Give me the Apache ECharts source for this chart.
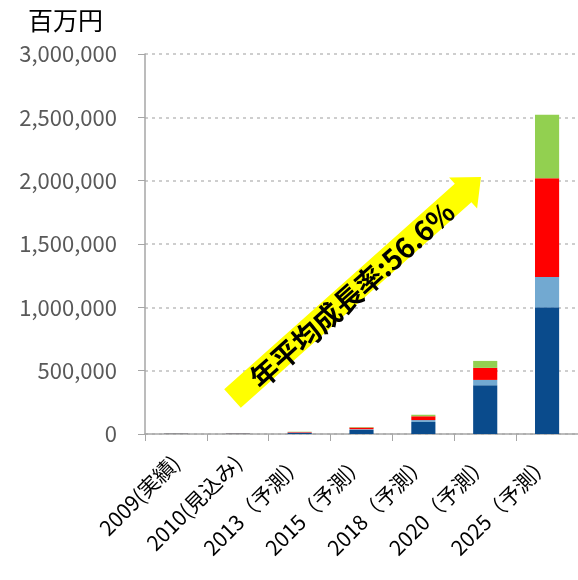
<!DOCTYPE html>
<html><head><meta charset="utf-8">
<script src="https://cdn.jsdelivr.net/npm/echarts@6/dist/echarts.min.js"></script>
<style>html,body{margin:0;padding:0;background:#fff}#c{width:578px;height:580px}</style>
</head><body><div id="c"></div>
<script>
var categories = ['2009(実績)', '2010(見込み)', '2013（予測）', '2015（予測）', '2018（予測）', '2020（予測）', '2025（予測）'];
var darkBlue  = [2000, 2500, 9000, 32000, 95000, 385000, 1000000];
var lightBlue = [500, 700, 2500, 6000, 15000, 42000, 240000];
var red       = [800, 1000, 4000, 13000, 30000, 95000, 780000];
var green     = [700, 800, 2500, 4000, 12000, 55000, 500000];
var yTicks = [0, 500000, 1000000, 1500000, 2000000, 2500000, 3000000];
var arrowText = '年平均成長率:56.6%';

var font = '"Noto Sans CJK JP", "Noto Sans", sans-serif';
function mk(name, data, color) {
  return { name: name, type: 'bar', stack: 'a', data: data, barWidth: '39%',
    itemStyle: { color: color }, emphasis: { disabled: true } };
}
var chart = echarts.init(document.getElementById('c'));
chart.setOption({
  animation: false,
  grid: { left: 145, right: 0, top: 54, bottom: 146 },
  xAxis: {
    type: 'category', data: categories,
    axisLine: { lineStyle: { color: '#a6a6a6', width: 1.5 } },
    axisTick: { show: true, length: 7, lineStyle: { color: '#a6a6a6' } },
    axisLabel: { rotate: 45, fontSize: 21, color: '#000', fontFamily: font, margin: 25, interval: 0 }
  },
  yAxis: {
    type: 'value', min: yTicks[0], max: yTicks[yTicks.length - 1], interval: 500000,
    axisLine: { show: true, lineStyle: { color: '#a6a6a6', width: 1.5 } },
    axisTick: { show: true, length: 7, lineStyle: { color: '#a6a6a6' } },
    axisLabel: { fontSize: 22, color: '#595959', fontFamily: font, margin: 28,
      formatter: function (v) { return v.toLocaleString('en-US'); } },
    splitLine: { lineStyle: { color: '#bfbfbf', type: [3, 4], width: 1.5 } }
  },
  series: [
    mk('a', darkBlue, '#0a4b8c'),
    mk('b', lightBlue, '#72a9d1'),
    mk('c', red, '#ff0000'),
    mk('d', green, '#92d050')
  ],
  graphic: [
    { type: 'text', left: 28, top: 8, style: { text: '百万円', fontSize: 25, fill: '#000', fontFamily: font } },
    { type: 'polygon', z: 100, shape: { points: [
        [224.2, 389.2], [454.8, 183.7], [449.1, 177.4], [481, 177],
        [477.1, 208.6], [471.4, 202.3], [240.8, 407.8]] },
      style: { fill: '#ffff00' } },
    { type: 'text', z: 101, x: 352, y: 295, rotation: 41.8 * Math.PI / 180,
      style: { text: arrowText, fontSize: 28, fontWeight: 'bold', fill: '#000', fontFamily: font,
        align: 'center', verticalAlign: 'middle' } }
  ]
});
</script></body></html>
